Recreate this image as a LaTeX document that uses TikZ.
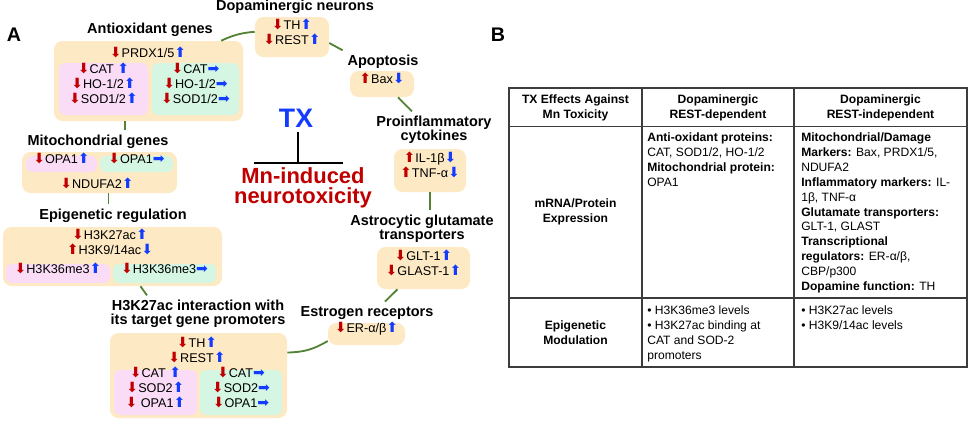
\documentclass[tikz,border=0pt]{standalone}
\usepackage{fontspec}
\setmainfont{Liberation Sans}
\newfontfamily\arrowfont{DejaVu Sans}
\usetikzlibrary{fit}
\definecolor{boxbeige}{RGB}{253,233,196}
\definecolor{boxpink}{RGB}{250,220,246}
\definecolor{boxgreen}{RGB}{212,246,226}
\definecolor{linkgreen}{RGB}{84,130,53}
\definecolor{downred}{RGB}{192,0,0}
\definecolor{upblue}{RGB}{20,60,255}
\definecolor{tablegray}{RGB}{60,60,60}
\newcommand{\rdn}{{\arrowfont\fontsize{10}{10}\selectfont\color{downred}⬇}}
\newcommand{\rup}{{\arrowfont\fontsize{10}{10}\selectfont\color{downred}⬆}}
\newcommand{\bup}{{\arrowfont\fontsize{10}{10}\selectfont\color{upblue}⬆}}
\newcommand{\bdn}{{\arrowfont\fontsize{10}{10}\selectfont\color{upblue}⬇}}
\newcommand{\brt}{{\arrowfont\fontsize{10}{10}\selectfont\color{upblue}➡}}

\begin{document}
\begin{tikzpicture}[x=0.025cm,y=-0.025cm,
	beigebox/.style={fill=boxbeige, rounded corners=6pt, inner sep=0pt},
	pinkbox/.style={fill=boxpink, rounded corners=4pt, inner sep=0pt, genetext},
	greenbox/.style={fill=boxgreen, rounded corners=4pt, inner sep=0pt, genetext},
	genetext/.style={font=\fontsize{9}{10.6}\selectfont, align=left},
	grouptitle/.style={font=\bfseries\fontsize{10.3}{9.8}\selectfont, align=center},
	link/.style={draw=linkgreen, line width=1.3pt},
	tbar/.style={draw=black, line width=1.4pt},
	tableline/.style={draw=tablegray, line width=0.9pt},
	celltext/.style={font=\fontsize{8.6}{10.6}\selectfont, inner sep=0pt}]
	\useasboundingbox (0,0) rectangle (969,423);

	\node[font=\bfseries\fontsize{14}{14}\selectfont] (panA) at (14,35) {A};
	\node[font=\bfseries\fontsize{14}{14}\selectfont] (panB) at (498,35) {B};

	% panel A
	\node[grouptitle] (tantiox) at (150,30) {Antioxidant genes};
	\node[beigebox, fit={(54,41) (243,121)}] (antiox) {};
	\node[genetext, inner sep=0pt] (prdx) at (148,52) {\rdn PRDX1/5\bup};
	\node[pinkbox, fit={(59,63) (148,115)}] (antioxp) {\rdn CAT \bup\\\rdn HO-1/2\bup\\\rdn SOD1/2\bup};
	\node[greenbox, fit={(152,63) (239,115)}] (antioxg) {\rdn CAT\brt\\\rdn HO-1/2\brt\\\rdn SOD1/2\brt};

	\node[grouptitle] (tda) at (295,7) {Dopaminergic neurons};
	\node[beigebox, genetext, align=center, fit={(255,17) (329,57)}] (da) {\rdn TH\bup\\\rdn REST\bup};

	\node[grouptitle] (tmito) at (98,142) {Mitochondrial genes};
	\node[beigebox, fit={(22,152) (177,193)}] (mito) {};
	\node[pinkbox, fit={(26,156) (97,172)}] (mitop) {\rdn OPA1\bup};
	\node[greenbox, fit={(100,156) (173,172)}] (mitog) {\rdn OPA1\brt};
	\node[genetext, inner sep=0pt] (ndufa) at (97,183) {\rdn NDUFA2\bup};

	\node[grouptitle] (tepi) at (113,216) {Epigenetic regulation};
	\node[beigebox, fit={(3,227) (222,286)}] (epi) {};
	\node[genetext, align=center, inner sep=0pt] (acet) at (110,242) {\rdn H3K27ac\bup\\\rup H3K9/14ac\bdn};
	\node[pinkbox, fit={(6,264) (110,283)}] (epip) {\rdn H3K36me3\bup};
	\node[greenbox, fit={(113,264) (216,283)}] (epig) {\rdn H3K36me3\brt};

	\node[grouptitle] (th3) at (198,314) {H3K27ac interaction with\\its target gene promoters};
	\node[beigebox, fit={(110,333) (287,418)}] (h3) {};
	\node[genetext, align=center, inner sep=0pt] (threst) at (197,350) {\rdn TH\bup\\\rdn REST\bup};
	\node[pinkbox, fit={(114,370) (197,415)}] (h3p) {\rdn CAT \bup\\\rdn SOD2\bup\\\rdn\ OPA1\bup};
	\node[greenbox, fit={(200,370) (282,415)}] (h3g) {\rdn CAT\brt\\\rdn SOD2\brt\\\rdn OPA1\brt};

	\node[grouptitle] (tapo) at (383,62) {Apoptosis};
	\node[beigebox, genetext, fit={(350,71) (414,97)}] (bax) {\rup Bax\bdn};

	\node[grouptitle] (tpro) at (434,130) {Proinflammatory\\cytokines};
	\node[beigebox, genetext, fit={(394,149) (466,192)}] (il) {\rup IL-1β\bdn\\\rup TNF-α\bdn};

	\node[grouptitle] (tastro) at (422,229) {Astrocytic glutamate\\transporters};
	\node[beigebox, genetext, fit={(377,247) (470,289)}] (glt) {\rdn GLT-1\bup\\\rdn GLAST-1\bup};

	\node[grouptitle] (ter) at (367,313) {Estrogen receptors};
	\node[beigebox, genetext, fit={(328,323) (405,345)}] (er) {\rdn ER-α/β\bup};

	\node[font=\bfseries\fontsize{19}{19}\selectfont, text=upblue] (tx) at (296,118) {TX};
	\node[font=\bfseries\fontsize{15.6}{14.5}\selectfont, text=downred, align=center] (mn) at (303,188) {Mn-induced\\neurotoxicity};
	\coordinate (bar) at (298,163);
	\draw[tbar] (bar |- tx.south) -- (bar);
	\draw[tbar] ([shift={(-44,0)}]bar) -- ([shift={(45,0)}]bar);

	\draw[link] (antiox.29) to[bend left=10] (da.172);
	\draw[link] (antiox.240) -- (antiox.240 |- tmito.north);
	\draw[link] ([shift={(9,0)}]mito.south) -- ([shift={(9,0)}]mito.south |- tepi.north);
	\draw[link] ([shift={(28,0)}]epi.south) -- ([shift={(-51,0)}]th3.north);
	\draw[link] ([shift={(0,6)}]da.east) -- (tapo.north west);
	\draw[link] ([shift={(16,0)}]bax.south) -- ([shift={(-22,0)}]tpro.north);
	\draw[link] (il.south) -- (il.south |- tastro.north);
	\draw[link] ([shift={(-26,0)}]glt.south) -- ([shift={(18,0)}]ter.north);
	\draw[link] ([shift={(0,-23)}]h3.east) to[bend right=15] ([shift={(0,7)}]er.west);

	% panel B
	\draw[tableline] (509,88) rectangle (967,367);
	\draw[tableline] (642,88) -- (642,367);
	\draw[tableline] (794,88) -- (794,367);
	\draw[tableline] (509,126.5) -- (967,126.5);
	\draw[tableline] (509,298) -- (967,298);

	\node[celltext, font=\bfseries\fontsize{8.6}{10.6}\selectfont, align=center] (h1) at (575.5,107.5) {TX Effects Against\\Mn Toxicity};
	\node[celltext, font=\bfseries\fontsize{8.6}{10.6}\selectfont, align=center] (h2) at (718,107.5) {Dopaminergic\\REST-dependent};
	\node[celltext, font=\bfseries\fontsize{8.6}{10.6}\selectfont, align=center] (h3head) at (880.5,107.5) {Dopaminergic\\REST-independent};

	\node[celltext, font=\bfseries\fontsize{8.6}{10.6}\selectfont, align=center] (r1) at (575.5,212) {mRNA/Protein\\Expression};
	\node[celltext, align=left, anchor=north west] (r1c2) at (647,132.5) {\textbf{Anti-oxidant proteins:}\\CAT, SOD1/2, HO-1/2\\\textbf{Mitochondrial protein:}\\OPA1};
	\node[celltext, align=left, anchor=north west] (r1c3) at (801,132.5) {\textbf{Mitochondrial/Damage}\\\textbf{Markers:} Bax, PRDX1/5,\\NDUFA2\\\textbf{Inflammatory markers:} IL-\\1β, TNF-α\\\textbf{Glutamate transporters:}\\GLT-1, GLAST\\\textbf{Transcriptional}\\\textbf{regulators:} ER-α/β,\\CBP/p300\\\textbf{Dopamine function:} TH};

	\node[celltext, font=\bfseries\fontsize{8.6}{10.6}\selectfont, align=center] (r2) at (575.5,332.5) {Epigenetic\\Modulation};
	\node[celltext, align=left, anchor=north west] (r2c2) at (647,305.5) {• H3K36me3 levels\\• H3K27ac binding at\\CAT and SOD-2\\promoters};
	\node[celltext, align=left, anchor=north west] (r2c3) at (801,305.5) {• H3K27ac levels\\• H3K9/14ac levels};
\end{tikzpicture}
\end{document}
